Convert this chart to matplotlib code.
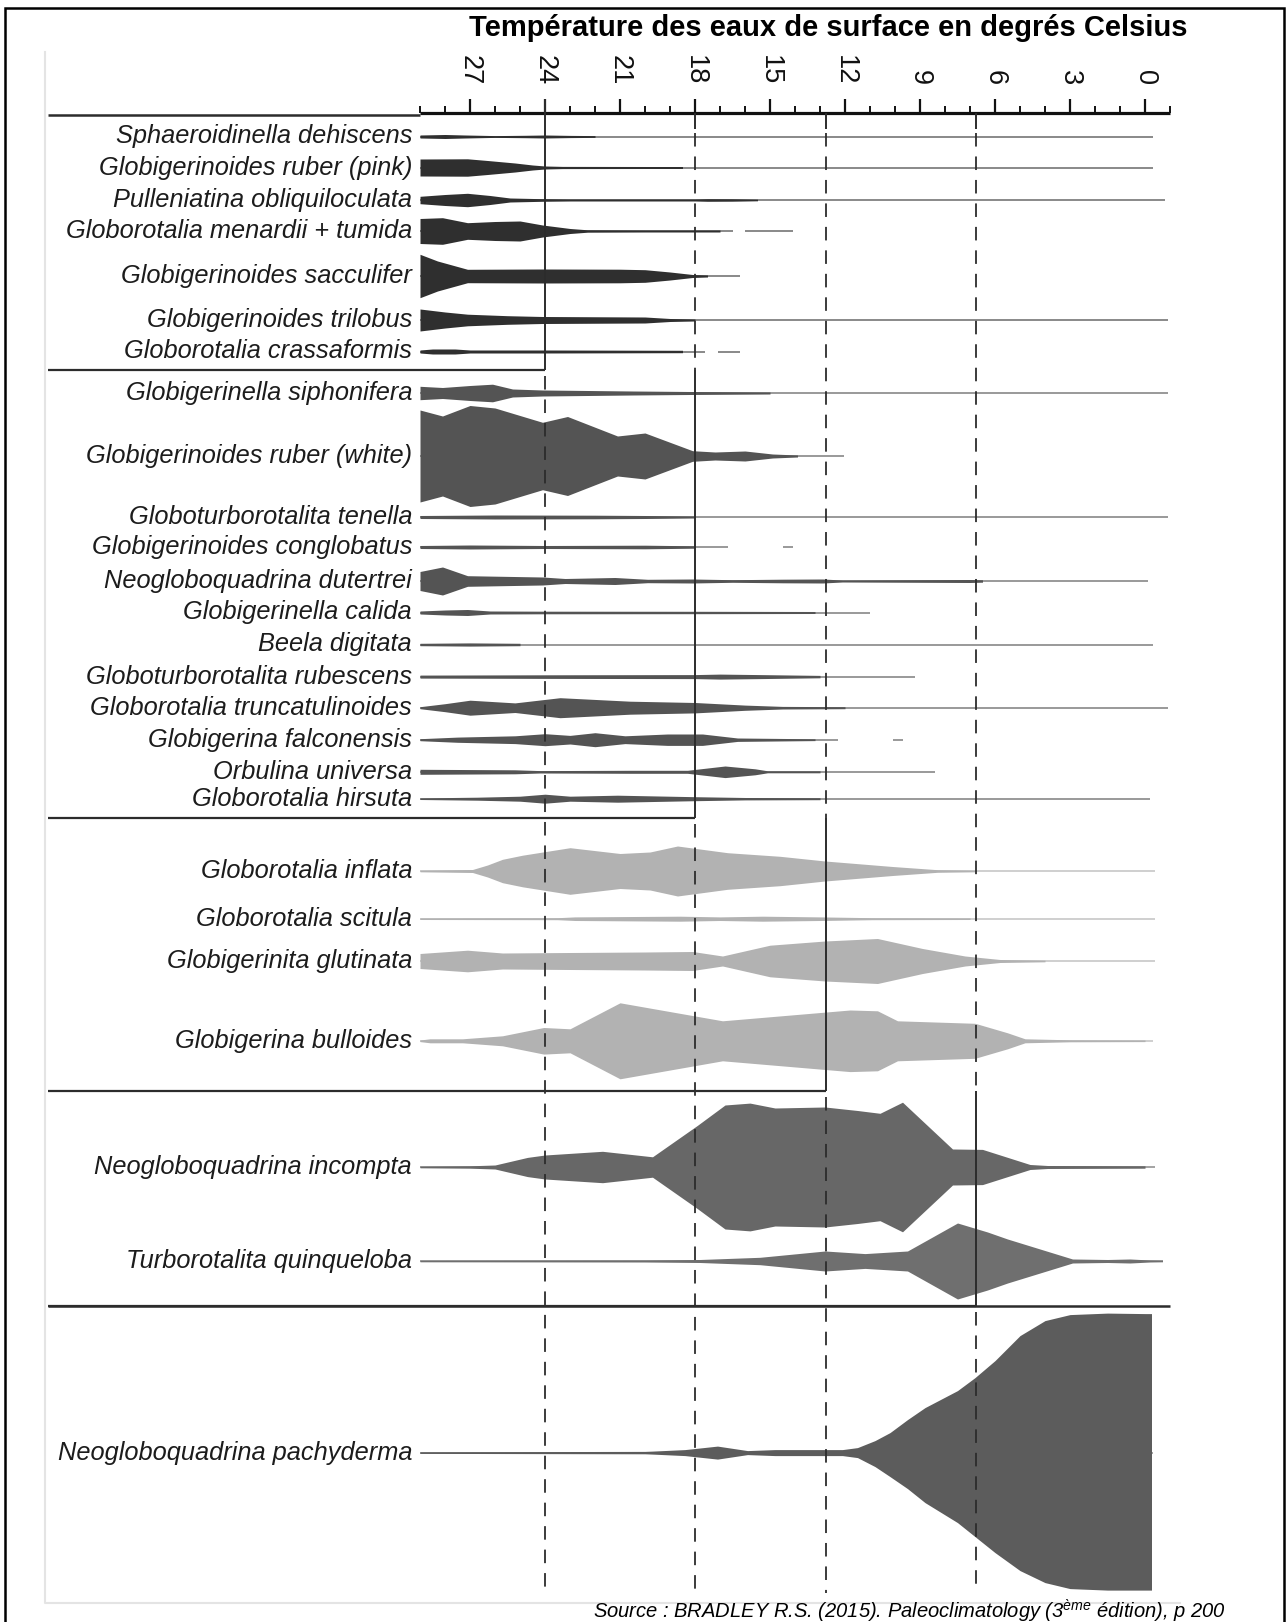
import matplotlib
matplotlib.use('Agg')
import matplotlib.pyplot as plt

plt.rcParams['font.family'] = ['Liberation Sans', 'DejaVu Sans']
plt.rcParams['mathtext.fontset'] = 'custom'
plt.rcParams['mathtext.it'] = 'Liberation Sans:italic'
plt.rcParams['mathtext.rm'] = 'Liberation Sans'

# ------------------------------ DATA ------------------------------
# temperature axis
tick_major = [27, 24, 21, 18, 15, 12, 9, 6, 3, 0]
tick_minor = list(range(29, -2, -1))
zone_limits = [24, 18, 12.75, 6.75]   # boundaries between faunal groups (deg C)

species = [
    'Sphaeroidinella dehiscens', 'Globigerinoides ruber (pink)', 'Pulleniatina obliquiloculata',
    'Globorotalia menardii + tumida', 'Globigerinoides sacculifer', 'Globigerinoides trilobus',
    'Globorotalia crassaformis',
    'Globigerinella siphonifera', 'Globigerinoides ruber (white)', 'Globoturborotalita tenella',
    'Globigerinoides conglobatus', 'Neogloboquadrina dutertrei', 'Globigerinella calida',
    'Beela digitata', 'Globoturborotalita rubescens', 'Globorotalia truncatulinoides',
    'Globigerina falconensis', 'Orbulina universa', 'Globorotalia hirsuta',
    'Globorotalia inflata', 'Globorotalia scitula', 'Globigerinita glutinata', 'Globigerina bulloides',
    'Neogloboquadrina incompta', 'Turborotalita quinqueloba',
    'Neogloboquadrina pachyderma',
]
group = [0] * 7 + [1] * 12 + [2] * 4 + [3, 4, 5]

# relative abundance profiles: (temperature, half-width) or (temperature, upper, lower)
p_dehiscens = [(29, 1.5), (28, 2), (27.2, 1.5), (26, 0.9), (24.8, 1.2), (24, 1.5), (23, 1.1), (22, 0.9)]
p_ruber_pink = [(29, 8.5), (27.1, 8.7), (26.3, 7), (25.2, 4.5), (24.5, 2.5), (24, 1.5), (23.3, 1.1), (20, 1), (18.5, 1)]
p_obliqui = [(29, 3.7), (28, 5.5), (27.1, 6.7), (26.2, 4.5), (25.4, 2), (24.1, 1.3), (23, 1), (18, 1), (17.5, 1.3), (16.5, 1.2), (15.5, 0.8)]
p_menardii = [(29, 12.5), (28.1, 13.3), (27.1, 8.3), (26, 9.5), (25, 10), (24.1, 6), (23, 2.5), (22.3, 1.2), (20, 1), (17, 1)]
p_sacculifer = [(29, 21.7), (28.3, 15), (27.1, 6.7), (24.1, 7), (21, 6.8), (20, 6.3), (19, 4), (18.1, 1.5), (17.5, 1)]
p_trilobus = [(29, 11), (28, 8), (27.1, 5.8), (25.5, 4.3), (24.1, 3.5), (20, 3), (19, 1.5), (18, 1)]
p_crassa = [(29, 1.5), (28.5, 2.5), (27.6, 2.5), (27, 1.5), (24, 1.5), (18.5, 1.2)]
p_siphonifera = [(29, 6.7), (28.1, 5.5), (27, 7.5), (26.1, 8.8), (25.3, 4), (24.1, 3), (20.5, 2), (18.2, 1.5), (15, 1)]
p_ruber_white = [(29, 46), (28.1, 40), (27, 50.5), (26, 48), (24.1, 33.7), (23.1, 39.5), (21.1, 20), (20, 23),
                 (18.1, 5.3), (17.2, 4), (16, 5), (14.9, 2), (13.9, 1)]
p_tenella = [(29, 1.5), (26, 2), (22, 1.8), (20, 1.5), (18, 1)]
p_conglobatus = [(29, 1.5), (27, 2), (24, 1.5), (20, 1.8), (18, 1.2)]
p_dutertrei = [(29, 9.5), (28.1, 14), (27.1, 5.3), (24.1, 4), (23.2, 2.5), (21.2, 3.5), (19.9, 1.7), (18.1, 2),
               (16.5, 1.3), (14.5, 1.8), (12.9, 2), (12.1, 1), (7, 1.5), (6.5, 1.2)]
p_calida = [(29, 1.5), (28, 2.5), (27.1, 3), (26.2, 1.5), (24, 1.3), (18, 1.2), (13.2, 1)]
p_digitata = [(29, 1.2), (27, 1.6), (25, 1.2)]
p_rubescens = [(29, 1.5), (24, 1.8), (18, 2), (17, 2.5), (15.4, 2), (13, 1.2)]
p_truncatu = [(29, 1), (28, 4), (27, 7.5), (25.2, 4.8), (23.4, 10), (20.6, 6.5), (18, 5.2), (16, 2.6), (14.5, 1.3), (12, 1)]
p_falconensis = [(29, 1), (27.5, 2.6), (25.2, 3.9), (24, 6), (23, 4.3), (22, 7), (20.8, 3.9), (19.1, 5.7),
                 (17.7, 5.7), (16.3, 1.7), (13.2, 0.9)]
p_orbulina = [(29, 2.5), (25.2, 2), (24.2, 1.2), (20.6, 1.5), (18.3, 1.5), (16.8, 5.8), (15.6, 3), (15.1, 1), (13, 1)]
p_hirsuta = [(29, 0.8), (26.7, 1.5), (25, 2.5), (24, 4.5), (23, 2.5), (21.1, 3.5), (18, 2), (16, 1.2), (13, 1)]
p_inflata = [(29, 0.8), (26.9, 1.5), (26.3, 6), (25.7, 11.7), (24.9, 15.8), (23, 23.3), (21, 17.5), (19.8, 19),
             (18.7, 25), (16.7, 18.3), (14.6, 14.7), (12.8, 10), (10.1, 4.5), (8.3, 1.3), (6.8, 0.8)]
p_scitula = [(29, 0.8), (23.5, 1), (22.8, 1.8), (18.6, 2.5), (17, 1.8), (15.3, 2.5), (13, 1.8), (10.9, 1), (7, 0.8)]
p_glutinata = [(29, 7.5), (27.1, 10.8), (25.7, 8), (23, 8.5), (20, 9), (18.1, 9.5), (16.9, 5), (15, 15.8),
               (12.8, 20), (10.7, 22.5), (8.9, 12.5), (7.2, 5), (5.8, 1.5), (4, 0.8)]
p_bulloides = [(29, 0.8), (28.6, 2), (27.3, 2), (25.7, 5), (24.05, 13.3), (23, 12), (21, 38), (16.9, 20),
               (11.8, 30.8), (10.7, 30), (9.9, 20), (6.8, 17.5), (5.5, 8), (4.8, 2), (3, 1), (0, 0.8)]
p_incompta = [(29, 0.8), (27, 1.2), (26, 2), (24.7, 9.6), (24, 12), (21.7, 15.7), (19.7, 10.2), (17.9, 41.7),
              (16.8, 62), (15.8, 63.9), (14.8, 59), (12.8, 60), (11.5, 56.5), (10.6, 53.7), (9.7, 64.8),
              (7.7, 18), (6.5, 17.6), (4.6, 2.5), (3.9, 1.5), (0, 1.2)]
p_quinqueloba = [(29, 0.8), (20, 1), (17.8, 1.5), (15.4, 3.7), (12.8, 10), (11.2, 7.4), (9.5, 10), (7.5, 38),
                 (6.3, 29), (5.5, 22), (4.2, 12), (2.9, 2), (1.5, 1.5), (0.6, 2), (-0.2, 1), (-0.7, 0.8)]
p_pachyderma = [(29, 0.8, 0.8), (20, 1.2, 1.2), (19.7, 1.5, 1.5), (18.4, 3, 3), (17.1, 6.5, 6.5), (15.9, 2, 2),
                (14.8, 3, 3), (12.1, 3, 3), (11.5, 5, 5), (10.8, 12, 14), (10.2, 20, 24), (9.5, 33, 36),
                (8.8, 45, 50), (7.5, 62, 70), (6.8, 75, 84), (6.0, 92, 100), (5.0, 117, 118), (4.0, 132, 130),
                (3.0, 138, 136), (1.5, 139.5, 137.5), (0, 139, 137.5), (-0.26, 139, 137.5)]

profiles = [p_dehiscens, p_ruber_pink, p_obliqui, p_menardii, p_sacculifer, p_trilobus, p_crassa,
            p_siphonifera, p_ruber_white, p_tenella, p_conglobatus, p_dutertrei, p_calida, p_digitata,
            p_rubescens, p_truncatu, p_falconensis, p_orbulina, p_hirsuta,
            p_inflata, p_scitula, p_glutinata, p_bulloides, p_incompta, p_quinqueloba, p_pachyderma]

# temperature range where each species is present (thin line)
presence = [
    [(29, -0.3)], [(29, -0.3)], [(29, -0.8)], [(29, 16.5), (16.0, 14.1)], [(29, 16.2)], [(29, -0.9)],
    [(29, 17.6), (17.1, 16.2)],
    [(29, -0.9)], [(29, 12.05)], [(29, -0.9)], [(29, 16.7), (14.5, 14.1)], [(29, -0.1)], [(29, 11)],
    [(29, -0.3)], [(29, 9.2)], [(29, -0.9)], [(29, 12.3), (10.1, 9.7)], [(29, 8.4)], [(29, -0.2)],
    [(29, -0.4)], [(29, -0.4)], [(29, -0.4)], [(29, -0.3)],
    [(29, -0.4)], [(29, -0.7)], [(29, -0.3)],
]

# ------------------------------ LAYOUT / STYLE ------------------------------
row_y = [136.5, 167.5, 200, 231, 276, 320, 351.5,
         393, 456, 517, 547, 581, 612.5, 644.5, 676.6, 707.7, 739.7, 771.8, 798.7,
         871, 918.7, 961, 1040.8,
         1167, 1261, 1452.6]
fill_colors = ['#2f2f2f', '#545454', '#b2b2b2', '#676767', '#6f6f6f', '#5c5c5c']
line_colors = ['#6a6a6a', '#7d7d7d', '#c2c2c2', '#8a8a8a', '#8f8f8f', '#858585']
sep_y = [115, 370, 818, 1090.5, 1305.7]
AXIS_Y = 113
BOTTOM = 1593
LINE_C = '#2c2c2c'

W, H = 1287, 1622
fig = plt.figure(figsize=(W / 100, H / 100), dpi=100)
ax = fig.add_axes([0, 0, 1, 1])


def tx(px):
    # pixel column -> temperature
    return 24 - (px - 545) / 25


ax.set_xlim(tx(0), tx(W))
ax.set_ylim(H, 0)
ax.axis('off')

# outer frame and pasted-image edge
ax.plot([tx(5), tx(5), tx(1284), tx(1284)], [H, 8, 8, H], color='black', lw=1.8, solid_joinstyle='miter')
ax.plot([tx(45), tx(45), tx(1180)], [52, 1603, 1603], color='#e4e4e4', lw=1.5)

# title
ax.text(tx(828), 28, 'Température des eaux de surface en degrés Celsius', ha='center', va='center',
        fontsize=21, fontweight='bold', color='black')

# top temperature axis
ax.hlines(AXIS_Y, 29, -1, color='#111111', lw=2.3)
ax.vlines(tick_minor, AXIS_Y - 7, AXIS_Y, color='#111111', lw=1.4)
ax.vlines(tick_major, AXIS_Y - 14, AXIS_Y, color='#111111', lw=1.6)
for t in tick_major:
    ax.text(t, 85, str(t), rotation=270, ha='center', va='bottom', fontsize=19.5, color='#111111')


def vsolid(t, y0, y1):
    ax.plot([t, t], [y0, y1], color=LINE_C, lw=1.4, zorder=4, solid_capstyle='butt')


def vdash(t, y0, y1):
    ax.plot([t, t], [y0, y1], color=LINE_C, lw=1.3, zorder=4, dashes=(7.5, 5.5))


# faunal zone boundaries: solid inside their group, dashed elsewhere
for i, t in enumerate(zone_limits):
    top, bot = sep_y[i], sep_y[i + 1]
    if i == 0:
        vsolid(t, AXIS_Y - 14, bot)
    else:
        vsolid(t, AXIS_Y, 129)
        vdash(t, 133, top)
        vsolid(t, top, bot)
    vdash(t, bot + 6, BOTTOM)

# horizontal separators
ax.hlines(sep_y[0], tx(48), 29, color=LINE_C, lw=1.8)
for i, t in enumerate(zone_limits):
    ax.hlines(sep_y[i + 1], tx(48), t, color=LINE_C, lw=1.6, zorder=4)
ax.hlines(sep_y[-1], tx(48), -1, color=LINE_C, lw=1.8, zorder=4)

# species profiles
for name, y, g, prof, segs in zip(species, row_y, group, profiles, presence):
    for a, b in segs:
        ax.hlines(y, a, b, color=line_colors[g], lw=1.1, zorder=2)
    t = [p[0] for p in prof]
    up = [p[1] for p in prof]
    lo = [p[-1] for p in prof]
    ax.fill_between(t, [y - v for v in up], [y + v for v in lo], color=fill_colors[g], lw=0, zorder=3)
    ax.text(tx(412), y, name, ha='right', va='center', fontsize=18.3, fontstyle='italic', color='#1c1c1c')

# source
ax.text(tx(1226), 1611, r'Source : BRADLEY R.S. (2015). Paleoclimatology (3$^{\mathit{ème}}$ édition), p 200',
        ha='right', va='center', fontsize=14.5, fontstyle='italic', color='black')

fig.savefig('out.png', dpi=100)
